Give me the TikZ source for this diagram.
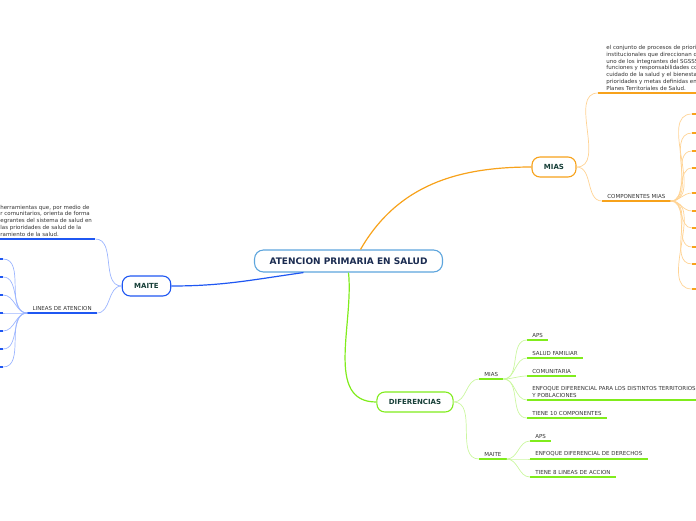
\documentclass[tikz,border=0pt]{standalone}
\usepackage{fontspec}
\setmainfont{DejaVu Sans}
\definecolor{miasor}{HTML}{F7A21B}
\definecolor{miaslt}{HTML}{FFD394}
\definecolor{maitebl}{HTML}{1F57F2}
\definecolor{maitelt}{HTML}{9DB6FF}
\definecolor{difgr}{HTML}{80EC1C}
\definecolor{diflt}{HTML}{CBF7A0}
\definecolor{rootbl}{HTML}{5DA5DD}
\definecolor{lbltxt}{HTML}{173F38}
\definecolor{roottxt}{HTML}{1A2B50}
\definecolor{leaftxt}{HTML}{333333}
\tikzset{every picture/.style={line width=0.75pt}}

\begin{document}
\begin{tikzpicture}[x=1pt,y=-1pt,
  root/.style={draw=rootbl,line width=1.1pt,rounded corners=9pt,fill=white,minimum height=22pt,inner xsep=15pt,font=\fontsize{9}{10}\bfseries,text=roottxt},
  topic/.style={draw=#1,line width=1.1pt,rounded corners=8pt,fill=white,minimum height=20pt,inner xsep=12pt,font=\fontsize{7}{8}\bfseries,text=lbltxt},
  leaf/.style={anchor=south west,inner xsep=5pt,inner ysep=2.5pt,font=\fontsize{5.5}{6.7}\selectfont,text=leaftxt,align=left},
  uline/.style={line width=2pt,#1},
  branch/.style={line width=1.2pt,#1},
  twig/.style={line width=0.7pt,#1}]
  \clip (0,0) rectangle (696,520);

  \node[root] (aps) at (348.5,261) {ATENCION PRIMARIA EN SALUD};
  \node[topic=miasor] (mias) at (554,167) {MIAS};
  \node[topic=maitebl] (maite) at (146.5,286) {MAITE};
  \node[topic=difgr] (dif) at (415,402) {DIFERENCIAS};

  \draw[branch=miasor] ([xshift=12pt]aps.north) to[out=60,in=180] (mias.west);
  \draw[branch=maitebl] ([xshift=-45pt]aps.south) to[out=188,in=0] (maite.east);
  \draw[branch=difgr] (aps.south) to[out=-84,in=180] (dif.west);

  \node[leaf,inner xsep=8pt] (miasdef) at (598,93) {el conjunto de procesos de priorización,\\institucionales que direccionan de manera\\uno de los integrantes del SGSSS, en el marco\\funciones y responsabilidades con el\\cuidado de la salud y el bienestar\\prioridades y metas definidas en los\\Planes Territoriales de Salud.};
  \node[leaf] (comp) at (602,201) {COMPONENTES MIAS};
  \draw[uline=miasor] (miasdef.south west) -- (miasdef.south east);
  \draw[uline=miasor] (comp.south west) -- (comp.south east);
  \draw[twig=miaslt] (mias.east) to[out=0,in=180] (miasdef.south west);
  \draw[twig=miaslt] (mias.east) to[out=0,in=180] (comp.south west);
  \foreach \y [count=\i] in {114,133,151,168,193,211,228,247,264,289} {
    \coordinate (cm\i) at (692,\y);
    \draw[twig=miaslt] (comp.south east) to[out=0,in=180] (cm\i);
    \draw[uline=miasor] (cm\i) -- ++(10,0);
  }

  \node[leaf,inner xsep=3pt] (maitedef) at (-3,239) {herramientas que, por medio de\\r comunitarios, orienta de forma\\egrantes del sistema de salud en\\ las prioridades de salud de la\\ramiento de la salud.};
  \node[leaf,anchor=south east] (lineas) at (97,313) {LINEAS DE ATENCION};
  \draw[uline=maitebl] (maitedef.south west) -- (maitedef.south east);
  \draw[uline=maitebl] (lineas.south west) -- (lineas.south east);
  \draw[twig=maitelt] (maite.west) to[out=180,in=0] (maitedef.south east);
  \draw[twig=maitelt] (maite.west) to[out=180,in=0] (lineas.south east);
  \foreach \y [count=\i] in {259,277,295,313,331,349,367} {
    \coordinate (la\i) at (3,\y);
    \draw[twig=maitelt] (lineas.south west) to[out=180,in=0] (la\i);
    \draw[uline=maitebl] (la\i) -- ++(-8,0);
  }

  \node[leaf] (dmias) at (479,379) {MIAS};
  \node[leaf] (dmaite) at (479,459) {MAITE};
  \draw[uline=difgr] (dmias.south west) -- (dmias.south east);
  \draw[uline=difgr] (dmaite.south west) -- (dmaite.south east);
  \draw[twig=diflt] (dif.east) to[out=0,in=180] (dmias.south west);
  \draw[twig=diflt] (dif.east) to[out=0,in=180] (dmaite.south west);

  \node[leaf] (aps1) at (527,340) {APS};
  \node[leaf] (famil) at (527,358) {SALUD FAMILIAR};
  \node[leaf] (comun) at (527,376) {COMUNITARIA};
  \node[leaf] (enfterr) at (527,400) {ENFOQUE DIFERENCIAL PARA LOS DISTINTOS TERRITORIOS\\Y POBLACIONES};
  \node[leaf] (tiene10) at (527,418) {TIENE 10 COMPONENTES};
  \foreach \n in {aps1,famil,comun,enfterr,tiene10} {
    \draw[uline=difgr] (\n.south west) -- (\n.south east);
    \draw[twig=diflt] (dmias.south east) to[out=0,in=180] (\n.south west);
  }

  \node[leaf] (aps2) at (530,441) {APS};
  \node[leaf] (enfder) at (530,459) {ENFOQUE DIFERENCIAL DE DERECHOS};
  \node[leaf] (tiene8) at (530,477) {TIENE 8 LINEAS DE ACCION};
  \foreach \n in {aps2,enfder,tiene8} {
    \draw[uline=difgr] (\n.south west) -- (\n.south east);
    \draw[twig=diflt] (dmaite.south east) to[out=0,in=180] (\n.south west);
  }
\end{tikzpicture}
\end{document}
